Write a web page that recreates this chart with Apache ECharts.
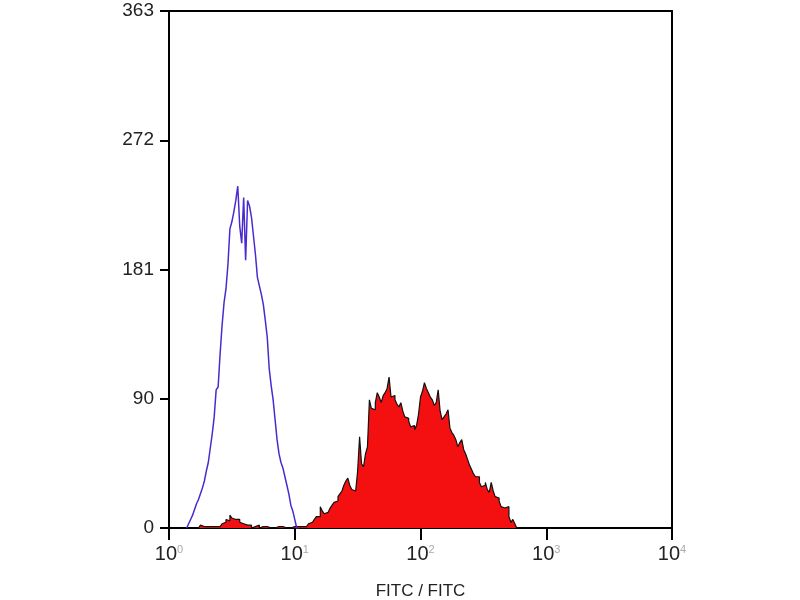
<!DOCTYPE html>
<html><head><meta charset="utf-8">
<script src="https://cdn.jsdelivr.net/npm/echarts@6/dist/echarts.min.js"></script>
<style>html,body{margin:0;padding:0;background:#fff}#c{width:800px;height:600px}</style>
</head><body><div id="c"></div>
<script>
// channels: 64 per decade, log scale 10^0..10^4
var channelsPerDecade = 64;
var xTickLabels = ['0','1','2','3','4'];
var yTickLabels = ['0','90','181','272','363'];
var xAxisTitle = 'FITC / FITC';

var blueStartChannel = 9;
var blueCounts = [0,0,3,6,9,13,17,20,24,28,33,40,46,56,66,78,97,99,122,142,158,168,185,210,215,222,230,240,212,200,232,188,230,226,218,205,192,176,170,164,157,146,134,112,100,90,76,62,52,46,42,36,30,24,16,12,6,0];

var redStartChannel = 15;
var redCounts = [0,1,2,1,2,1,0,1,0,1,0,1,2,3,4,6,5,9,7,6,5,6,4,3,4,2,1,2,0,1,0,2,0,1,0,1,0,0,1,0,0,1,0,1,0,0,1,0,0,1,0,1,0,1,2,1,2,3,4,5,6,8,8,15,12,10,11,10,14,16,18,19,22,24,26,30,33,35,30,27,26,25,40,64,45,43,52,57,90,84,83,88,95,92,88,93,95,98,106,92,93,90,87,85,88,82,78,77,75,71,72,69,72,80,92,96,102,98,95,92,90,86,88,97,82,76,78,80,83,70,67,65,62,57,60,62,55,52,48,44,41,38,36,36,32,29,30,32,27,25,32,26,22,21,19,15,14,13,15,8,4,6,3,0];

function toSeries(start, counts){
  var out = [];
  for (var i=0;i<counts.length;i++) out.push([(start+i)/channelsPerDecade, counts[i]]);
  return out;
}

var chart = echarts.init(document.getElementById('c'), null, {renderer:'canvas'});
var font = '"Liberation Sans", Arial, sans-serif';
chart.setOption({
  animation:false,
  backgroundColor:'#fff',
  grid:{left:169,right:128,top:11,bottom:72,containLabel:false,outerBoundsMode:'none'},
  xAxis:[{
    type:'value',min:0,max:4,interval:1,
    name:xAxisTitle,nameLocation:'middle',nameGap:55,
    nameTextStyle:{fontFamily:font,fontSize:17,color:'#222'},
    axisLine:{show:true,lineStyle:{color:'#000',width:2}},
    axisTick:{show:true,length:12,lineStyle:{color:'#000',width:2}},
    splitLine:{show:false},
    axisLabel:{margin:16,formatter:function(v){var i=Math.round(v);return '{b|10}{s|'+xTickLabels[i]+'}';},
      rich:{b:{fontFamily:font,fontSize:20,color:'#222'},s:{fontFamily:font,fontSize:11,color:'#aaa',verticalAlign:'top',padding:[0,0,10,0]}}}
  },{
    type:'value',min:0,max:4,position:'top',
    axisLine:{show:true,onZero:false,lineStyle:{color:'#000',width:2}},
    axisTick:{show:false},axisLabel:{show:false},splitLine:{show:false}
  }],
  yAxis:[{
    type:'value',min:0,max:363,interval:90.75,
    axisLine:{show:true,lineStyle:{color:'#000',width:2}},
    axisTick:{show:true,length:9,lineStyle:{color:'#000',width:2}},
    splitLine:{show:false},
    axisLabel:{margin:15,fontFamily:font,fontSize:19,color:'#222',formatter:function(v,i){return yTickLabels[i];}}
  },{
    type:'value',min:0,max:363,position:'right',
    axisLine:{show:true,onZero:false,lineStyle:{color:'#000',width:2}},
    axisTick:{show:false},axisLabel:{show:false},splitLine:{show:false}
  }],
  series:[{
    type:'line',step:'start',symbol:'none',
    data:toSeries(redStartChannel, redCounts),
    lineStyle:{color:'#111',width:1.2},
    areaStyle:{color:'#f41010',opacity:1},
    z:2
  },{
    type:'line',step:'start',symbol:'none',
    data:toSeries(blueStartChannel, blueCounts),
    lineStyle:{color:'#4a2ad0',width:1.5},
    z:3
  }]
});
</script></body></html>
